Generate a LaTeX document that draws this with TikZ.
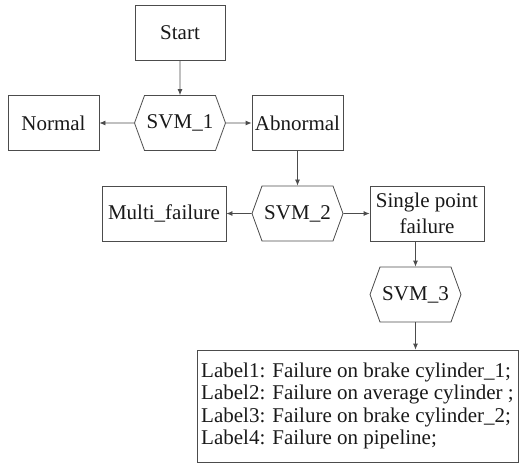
\documentclass[tikz,border=0pt]{standalone}
\usepackage{fontspec}
\setmainfont{Liberation Serif}
\usetikzlibrary{arrows.meta,shapes.symbols}

\begin{document}
\begin{tikzpicture}[x=1pt,y=1pt,
		every node/.style={font=\fontsize{21}{22.3}\selectfont, text=black!90},
		box/.style={draw=black!70, line width=0.8pt, minimum height=55pt, inner sep=2pt},
		svm/.style={draw=black!70, line width=0.8pt, shape=signal, signal to=west and east,
			signal pointer angle=140, minimum width=91pt, minimum height=55pt, inner sep=0pt},
		link/.style={draw=black!70, line width=0.8pt, -{Latex[length=6pt,width=5pt]}}]
		\useasboundingbox (0,0) rectangle (519,-472);
		% first level
		\node [box, minimum width=90pt] (start) at (180,-32.5) {Start};
		\node [svm] (svm1) at (180,-123) {SVM\_1};
		\node [box, minimum width=91pt] (normal) at (53.5,-123) {Normal};
		\node [box, minimum width=91pt] (abnormal) at (297.5,-123) {Abnormal};
		% second level
		\node [svm] (svm2) at (297.5,-213.5) {SVM\_2};
		\node [box, minimum width=124pt] (multi) at (164,-213.5) {Multi\_failure};
		\node [box, minimum width=114pt, align=center, font=\fontsize{21}{25.5}\selectfont] (single) at (427,-213.5) {Single point\\failure};
		% third level
		\node [svm] (svm3) at (415.5,-294.5) {SVM\_3};
		\node [box, minimum width=321pt, minimum height=112pt, align=left, inner sep=3pt] (labels) at (357.5,-406)
			{Label1: Failure on brake cylinder\_1;\\Label2: Failure on average cylinder ;\\Label3: Failure on brake cylinder\_2;\\Label4: Failure on pipeline;};
		\draw [link] (start) -- (svm1);
		\draw [link] (svm1) -- (normal);
		\draw [link] (svm1) -- (abnormal);
		\draw [link] (abnormal) -- (svm2);
		\draw [link] (svm2) -- (multi);
		\draw [link] (svm2) -- (single);
		\draw [link] (svm3.north |- single.south) -- (svm3.north);
		\draw [link] (svm3.south) -- (svm3.south |- labels.north);
\end{tikzpicture}
\end{document}
